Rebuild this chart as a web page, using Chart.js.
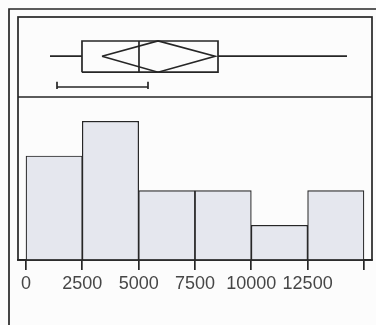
<!DOCTYPE html>
<html>
<head>
<meta charset="utf-8">
<script src="https://cdn.jsdelivr.net/npm/chart.js@4/dist/chart.umd.min.js"></script>
<style>
  html, body { margin: 0; padding: 0; background: #fcfcfc; }
  #wrap { width: 376px; height: 325px; }
</style>
</head>
<body>
<div id="wrap"><canvas id="hist"></canvas></div>
<script>
// histogram bins
const binStarts = [0, 2500, 5000, 7500, 10000, 12500];
const binWidth = 2500;
const counts = [3, 4, 2, 2, 1, 2];
const tickValues = [0, 2500, 5000, 7500, 10000, 12500, 15000];
const tickLabels = ['0', '2500', '5000', '7500', '10000', '12500', ''];

// outlier box plot summary
const whiskers = [1065, 14247];
const quartiles = [2485, 8522];
const median = 5015;
const mean = 5860;
const meanCI = [3373, 8389];
const shortestHalf = [1376, 5415];

const ink = '#262626';

function seg(points) {
  return {
    type: 'line',
    yAxisID: 'yBox',
    data: points,
    borderColor: ink,
    borderWidth: 1.7,
    pointRadius: 0,
    tension: 0,
    fill: false,
    spanGaps: false,
  };
}

const boxDatasets = [
  seg([
    { x: whiskers[0], y: 0.51 }, { x: quartiles[0], y: 0.51 },
    { x: median, y: null },
    { x: quartiles[1], y: 0.51 }, { x: whiskers[1], y: 0.51 },
  ]),
  seg([
    { x: quartiles[0], y: 0.31 }, { x: quartiles[0], y: 0.7 },
    { x: quartiles[1], y: 0.7 }, { x: quartiles[1], y: 0.31 },
    { x: quartiles[0], y: 0.31 },
  ]),
  seg([{ x: median, y: 0.31 }, { x: median, y: 0.7 }]),
  seg([
    { x: meanCI[0], y: 0.51 }, { x: mean, y: 0.7 },
    { x: meanCI[1], y: 0.51 }, { x: mean, y: 0.31 },
    { x: meanCI[0], y: 0.51 },
  ]),
  seg([
    { x: shortestHalf[0], y: 0.19 }, { x: shortestHalf[0], y: 0.1 },
    { x: shortestHalf[0], y: 0.125 }, { x: shortestHalf[1], y: 0.125 },
    { x: shortestHalf[1], y: 0.19 }, { x: shortestHalf[1], y: 0.1 },
  ]),
];

const frames = {
  id: 'frames',
  beforeDraw(chart) {
    const c = chart.ctx;
    c.save();
    c.fillStyle = '#fcfcfc';
    c.fillRect(0, 0, chart.width, chart.height);
    c.restore();
  },
  afterDraw(chart) {
    const c = chart.ctx;
    const a = chart.chartArea;
    const divY = chart.scales.yBox.bottom;
    c.save();
    c.strokeStyle = ink;
    c.lineWidth = 1.7;
    c.strokeRect(a.left, a.top, a.right - a.left, a.bottom - a.top);
    c.beginPath();
    c.moveTo(a.left, divY);
    c.lineTo(a.right, divY);
    c.moveTo(9, chart.height);
    c.lineTo(9, 9);
    c.lineTo(chart.width, 9);
    c.stroke();
    c.restore();
  },
};

new Chart(document.getElementById('hist'), {
  type: 'bar',
  data: {
    datasets: [
      {
        type: 'bar',
        yAxisID: 'y',
        data: binStarts.map((s, i) => ({ x: s + binWidth / 2, y: counts[i] })),
        backgroundColor: '#e5e7ee',
        borderColor: ink,
        borderWidth: 1.2,
        barPercentage: 1,
        categoryPercentage: 1,
        grouped: false,
      },
      ...boxDatasets,
    ],
  },
  options: {
    responsive: true,
    maintainAspectRatio: false,
    animation: false,
    layout: { padding: { left: 18, top: 17, right: 4, bottom: 0 } },
    plugins: { legend: { display: false }, tooltip: { enabled: false } },
    scales: {
      x: {
        type: 'linear',
        offset: false,
        min: -355,
        max: 15357,
        afterBuildTicks: s => { s.ticks = tickValues.map(v => ({ value: v })); },
        afterFit: s => { s.height = 65; },
        ticks: {
          color: '#464646',
          font: { family: 'Liberation Sans', size: 18 },
          padding: 3,
          maxRotation: 0,
          autoSkip: false,
          callback: (v, i) => tickLabels[i],
        },
        grid: { offset: false, drawOnChartArea: false, tickLength: 10, color: ink, lineWidth: 1.7 },
        border: { display: true, color: ink, width: 1.7 },
      },
      yBox: {
        type: 'linear',
        position: 'left',
        stack: 'panels',
        stackWeight: 80,
        weight: 1,
        min: 0,
        max: 1,
        display: false,
      },
      y: {
        type: 'linear',
        position: 'left',
        stack: 'panels',
        stackWeight: 163,
        weight: 0,
        min: 0,
        max: 4.7,
        display: false,
      },
    },
  },
  plugins: [frames],
});
</script>
</body>
</html>
